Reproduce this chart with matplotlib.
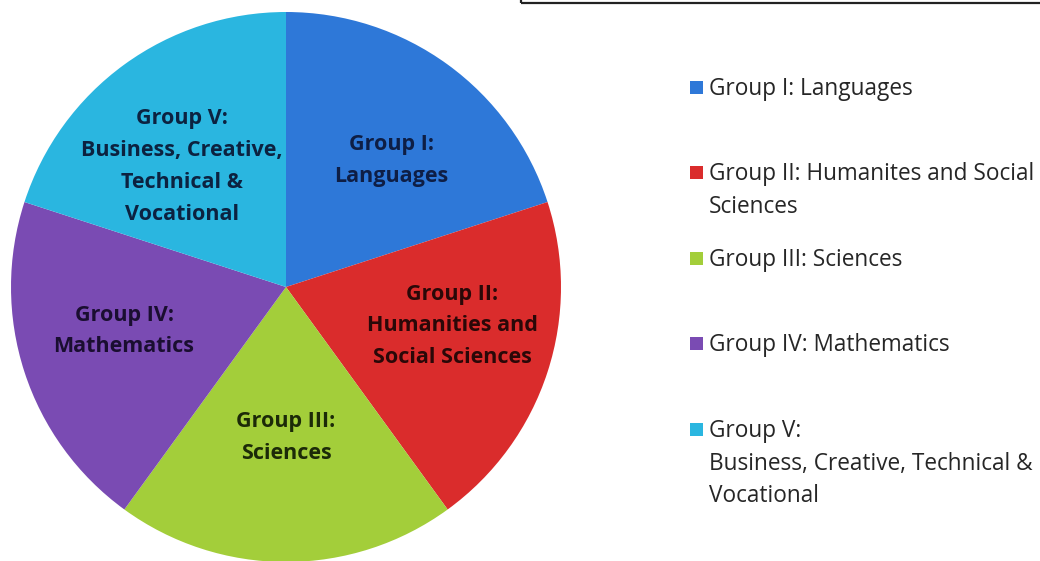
import matplotlib
matplotlib.use("Agg")
import matplotlib.pyplot as plt
import numpy as np
from matplotlib.patches import Rectangle

# Data
slice_labels = ["Group I:\nLanguages",
                "Group II:\nHumanities and\nSocial Sciences",
                "Group III:\nSciences",
                "Group IV:\nMathematics",
                "Group V:\nBusiness, Creative,\nTechnical &\nVocational"]
legend_labels = ["Group I: Languages",
                 "Group II: Humanites and Social\nSciences",
                 "Group III: Sciences",
                 "Group IV: Mathematics",
                 "Group V:\nBusiness, Creative, Technical &\nVocational"]
values = [20, 20, 20, 20, 20]
colors = ["#2E78D8", "#DA2C2C", "#A3CE3A", "#7A4BB3", "#2AB6E0"]
text_colors = ["#0E1E45", "#2A0808", "#1C2A08", "#1A0E30", "#0C2240"]
label_dist = [0.597, 0.62, 0.547, 0.61, 0.579]
label_ang_shift = [-3.8, 4.8, 0.0, -2.8, 4.8]

W, H = 1040, 561
fig = plt.figure(figsize=(W / 100, H / 100), dpi=100)
ax = fig.add_axes([0, 0, 1, 1])

cx, cy, r = 286, H - 287, 275
wedges, _ = ax.pie(values, colors=colors, startangle=90, counterclock=False,
                   center=(cx, cy), radius=r, frame=True,
                   wedgeprops=dict(linewidth=0))
ax.set_xlim(0, W)
ax.set_ylim(0, H)
ax.set_aspect("equal")
ax.axis("off")

for w, lab, tc, d, s in zip(wedges, slice_labels, text_colors, label_dist, label_ang_shift):
    ang = np.deg2rad((w.theta1 + w.theta2) / 2 + s)
    x = cx + d * r * np.cos(ang)
    y = cy + d * r * np.sin(ang)
    ax.text(x, y, lab, ha="center", va="center", multialignment="center",
            fontsize=15.5, fontweight="bold", color=tc, family="Open Sans",
            linespacing=1.68)

# Legend (manual, Excel-like layout)
first_line_y = [87, 172, 258, 343, 429]
for lab, col, yy in zip(legend_labels, colors, first_line_y):
    fig.patches.append(Rectangle((690 / W, 1 - (yy + 7) / H), 13 / W, 13 / H,
                                 transform=fig.transFigure, facecolor=col,
                                 edgecolor="none"))
    fig.text(709 / W, 1 - (yy - 10) / H, lab, ha="left", va="top",
             fontsize=16.3, color="#262626", family="Open Sans", linespacing=1.48)

# Frame fragment at top
fig.patches.append(Rectangle((521 / W, 1 - 3 / H), 600 / W, 20 / H,
                             transform=fig.transFigure, fill=False,
                             edgecolor="#222222", linewidth=1.6))

fig.savefig("out.png", dpi=100, facecolor="white")
